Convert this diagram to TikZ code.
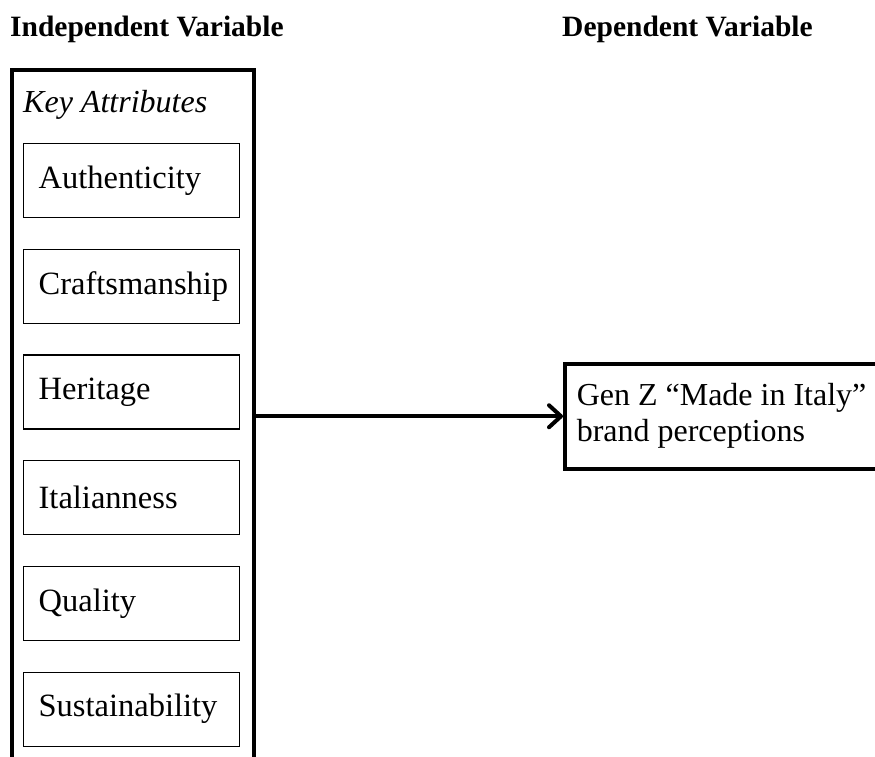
\documentclass[tikz,border=0pt]{standalone}
\usepackage{fontspec}
\setmainfont{Liberation Serif}
\usetikzlibrary{arrows.meta,positioning}

\begin{document}
\begin{tikzpicture}[x=1pt,y=-1pt,
    head/.style={font=\fontsize{29.5}{34}\selectfont\bfseries,anchor=base west,inner sep=0pt},
    frame/.style={draw,line width=3.5pt,anchor=north west,minimum width=242pt,minimum height=693pt},
    attr/.style={draw,line width=1.3pt,anchor=north west,minimum height=74pt,text width=186pt,
      inner xsep=15pt,align=flush left,font=\fontsize{32.5}{36}\selectfont},
    outcome/.style={draw,line width=3.5pt,anchor=north west,minimum height=105pt,text width=316pt,
      inner xsep=12pt,align=flush left,font=\fontsize{32}{36}\selectfont}]
        \useasboundingbox (0,0) rectangle (875,756);
        \clip (0,0) rectangle (875,756);
        \node[head] (ivtitle) at (10,36) {Independent Variable};
        \node[head] (dvtitle) at (562,36) {Dependent Variable};
        \node[frame] (attrs) at (10,68) {};
        \node[anchor=base west,inner sep=0pt,font=\fontsize{32}{36}\selectfont\itshape] (keyattr) at (23,112) {Key Attributes};
        \foreach \nm/\txt [count=\i from 0] in {auth/Authenticity,craft/Craftsmanship,herit/Heritage,ital/Italianness,qual/Quality,sust/Sustainability}
          \node[attr] (\nm) at (23,143+\i*105.7) {\txt};
        \node[outcome] (dv) at (563,362) {Gen Z “Made in Italy”\\brand perceptions};
        \draw[line width=4pt,-{Straight Barb[length=12pt,width=22pt,line cap=round,line join=round]}] (attrs) -- (dv);
      \end{tikzpicture}
\end{document}
